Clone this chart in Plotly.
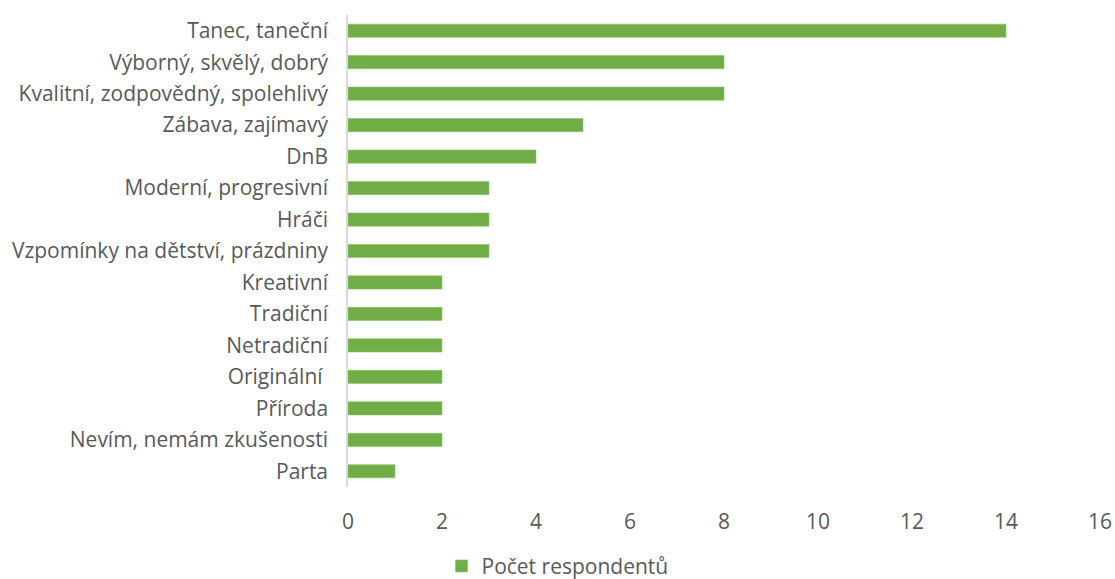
import plotly.graph_objects as go

categories = [
    "Tanec, taneční",
    "Výborný, skvělý, dobrý",
    "Kvalitní, zodpovědný, spolehlivý",
    "Zábava, zajímavý",
    "DnB",
    "Moderní, progresivní",
    "Hráči",
    "Vzpomínky na dětství, prázdniny",
    "Kreativní",
    "Tradiční",
    "Netradiční",
    "Originální ",
    "Příroda",
    "Nevím, nemám zkušenosti",
    "Parta",
]
counts = [14, 8, 8, 5, 4, 3, 3, 3, 2, 2, 2, 2, 2, 2, 1]
x_ticks = [0, 2, 4, 6, 8, 10, 12, 14, 16]

font_family = "'Open Sans', sans-serif"
text_color = "#595959"
font_size = 21

fig = go.Figure(
    go.Bar(
        x=counts,
        y=categories,
        orientation="h",
        name="Počet respondentů",
        marker=dict(color="#70AD47", line=dict(color="#8CC26A", width=0.6)),
    )
)

fig.update_layout(
    width=1115,
    height=579,
    margin=dict(l=348, r=15, t=15, b=92),
    plot_bgcolor="white",
    paper_bgcolor="white",
    bargap=0.58,
    font=dict(family=font_family, size=font_size, color=text_color),
    showlegend=True,
    legend=dict(
        orientation="h",
        xref="container",
        yref="container",
        x=0.5,
        xanchor="center",
        y=0.022,
        yanchor="middle",
        font=dict(size=font_size, color=text_color),
        itemwidth=30,
    ),
)

fig.update_xaxes(
    range=[0, 16],
    tickvals=x_ticks,
    showgrid=False,
    zeroline=False,
    showline=False,
    ticks="",
    automargin=False,
    ticklabelstandoff=20,
    tickfont=dict(size=font_size, color=text_color),
)

fig.update_yaxes(
    categoryorder="array",
    categoryarray=categories[::-1],
    showgrid=False,
    showline=True,
    linecolor="#D9D9D9",
    linewidth=1.5,
    ticks="",
    automargin=False,
    ticklabelstandoff=14,
    tickfont=dict(size=font_size, color=text_color),
)

fig.write_html("out.html")
